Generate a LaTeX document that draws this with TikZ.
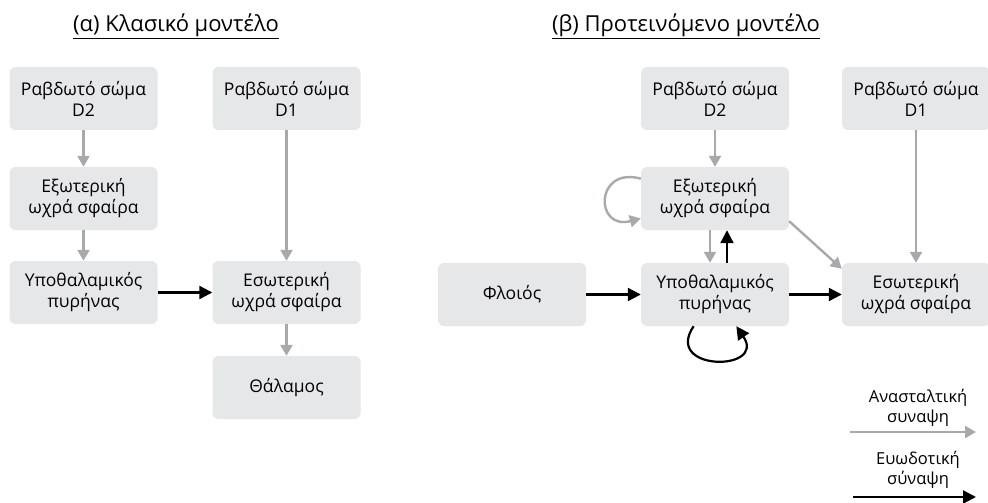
\documentclass[tikz,border=0pt]{standalone}
\usepackage{fontspec}
\setmainfont{Open Sans}
\usetikzlibrary{arrows.meta}
\definecolor{boxgray}{HTML}{E6E7E8}
\definecolor{inhgray}{HTML}{A7A9AC}
\tikzset{
x=1pt, y=1pt, % one unit is one pixel of the reference
box/.style={fill=boxgray, rounded corners=6pt, minimum width=148pt, minimum height=63pt, align=center, font=\fontsize{17.5}{21}\selectfont}, % grey boxes
inh/.style={-{Triangle[width=12pt,length=11pt]}, line width=2.4pt, draw=inhgray}, % inhibitory synapse
exc/.style={-{Triangle[width=13pt,length=13pt]}, line width=2.2pt, draw=black}, % excitatory synapse
title/.style={anchor=base, font=\fontsize{22}{26}\selectfont}, % panel titles
legend/.style={align=center, font=\fontsize{16.5}{20}\selectfont}, % legend texts
}

\begin{document}
\begin{tikzpicture}
    \useasboundingbox (0,0) rectangle (988,-503);

    % (a) classic model
    \node[title] (titleA) at (176,-32) {\underline{(α) Κλασικό μοντέλο}};
    \node[box] (lD2) at (83.5,-98.5) {Ραβδωτό σώμα\\D2};
    \node[box, below of=lD2, node distance=100pt] (lExt) {Εξωτερική\\ωχρά σφαίρα};
    \node[box, below of=lExt, node distance=94pt] (lHyp) {Υποθαλαμικός\\πυρήνας};
    \node[box, right of=lHyp, node distance=203pt] (lInt) {Εσωτερική\\ωχρά σφαίρα};
    \node[box, above of=lInt, node distance=194pt] (lD1) {Ραβδωτό σώμα\\D1};
    \node[box, below of=lInt, node distance=95pt] (lThal) {Θάλαμος};

    \draw[inh] (lD2) -- (lExt);
    \draw[inh] (lExt) -- (lHyp);
    \draw[inh] (lD1) -- (lInt);
    \draw[inh] (lInt) -- (lThal);
    \draw[exc] (lHyp) -- (lInt);

    % (b) proposed model
    \node[title] (titleB) at (686,-32) {\underline{(β) Προτεινόμενο μοντέλο}};
    \node[box] (rCtx) at (512,-294.5) {Φλοιός};
    \node[box, right of=rCtx, node distance=203pt] (rHyp) {Υποθαλαμικός\\πυρήνας};
    \node[box, right of=rHyp, node distance=201pt] (rInt) {Εσωτερική\\ωχρά σφαίρα};
    \node[box, above of=rHyp, node distance=96pt] (rExt) {Εξωτερική\\ωχρά σφαίρα};
    \node[box, above of=rExt, node distance=100pt] (rD2) {Ραβδωτό σώμα\\D2};
    \node[box, above of=rInt, node distance=196pt] (rD1) {Ραβδωτό σώμα\\D1};

    \draw[inh] (rD2) -- (rExt);
    \draw[inh] (rD1) -- (rInt);
    \draw[inh] ([xshift=-5pt]rExt.south) -- ([xshift=-5pt]rHyp.north);
    \draw[exc] ([xshift=12pt]rHyp.north) -- ([xshift=12pt]rExt.south);
    \draw[inh] ([yshift=9pt]rExt.south east) -- ([yshift=-6pt]rInt.north west);
    \draw[inh] (rExt) to[out=165, in=195, distance=48pt] (rExt);
    \draw[exc] (rHyp) to[out=236, in=304, distance=55pt] (rHyp);
    \draw[exc] (rCtx) -- (rHyp);
    \draw[exc] (rHyp) -- (rInt);

    % legend
    \node[legend] (inhText) at (918,-408) {Ανασταλτική\\συναψη};
    \coordinate (inhStart) at (850,-432);
    \coordinate (inhEnd) at (976,-432);
    \draw[inh] (inhStart) -- (inhEnd);
    \node[legend] (excText) at (918,-470) {Ευωδοτική\\σύναψη};
    \coordinate (excStart) at (853,-497);
    \coordinate (excEnd) at (976,-497);
    \draw[exc] (excStart) -- (excEnd);
\end{tikzpicture}
\end{document}
